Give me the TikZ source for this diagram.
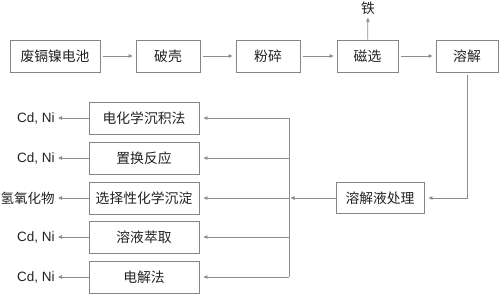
\documentclass[tikz,border=0pt]{standalone}
\usepackage{fontspec}
\setmainfont{Liberation Sans}
\newfontfamily\cjk{Noto Sans CJK SC}
\usetikzlibrary{arrows.meta, positioning, calc}
\definecolor{boxgray}{HTML}{858585}
\definecolor{linegray}{HTML}{8E8E8E}
\definecolor{txtgray}{HTML}{222222}

\begin{document}
\begin{tikzpicture}[
      x=1pt, y=-1pt,
      line width=0.8pt,
      stepbox/.style={rectangle, draw=boxgray, minimum height=32pt, inner sep=0pt, font=\cjk\fontsize{13.8}{16}\selectfont, text=txtgray},
      outlabel/.style={anchor=east, inner sep=0pt, font=\fontsize{13.5}{16}\selectfont, text=txtgray},
      flow/.style={draw=linegray, -{Triangle[length=4pt, width=3.5pt]}}
    ]
      \useasboundingbox (0,0) rectangle (500,294);
      \node[stepbox, minimum width=90pt] (battery) at (55,56) {废镉镍电池};
      \node[stepbox, minimum width=64pt] (crack) at (168,56) {破壳};
      \node[stepbox, minimum width=64pt] (grind) at (268,56) {粉碎};
      \node[stepbox, minimum width=61pt] (magsep) at (367.5,56) {磁选};
      \node[stepbox, minimum width=62pt] (dissolve) at (467,56) {溶解};
      \node[inner sep=0pt, font=\cjk\fontsize{13.8}{16}\selectfont, text=txtgray] (iron) at (368,8) {铁};
      \node[stepbox, minimum width=88pt, minimum height=31pt] (liquor) at (380,198) {溶解液处理};
      \coordinate (bus) at (289,198);

      \draw[flow, shorten <=3pt, shorten >=3pt] (battery) -- (crack);
      \draw[flow, shorten <=3pt, shorten >=3pt] (crack) -- (grind);
      \draw[flow, shorten <=3pt, shorten >=3pt] (grind) -- (magsep);
      \draw[flow, shorten <=3pt, shorten >=3pt] (magsep) -- (dissolve);
      \draw[flow, shorten >=3pt] (magsep) -- (iron);
      \draw[flow, shorten <=3pt, shorten >=4pt] (dissolve.south) |- (liquor.east);
      \draw[flow, shorten >=1.5pt] (liquor) -- (bus);

      \foreach \y/\method/\product [count=\i] in {118/电化学沉积法/{Cd, Ni}, 158/置换反应/{Cd, Ni}, 198/选择性化学沉淀/{\cjk 氢氧化物}, 237/溶液萃取/{Cd, Ni}, 277/电解法/{Cd, Ni}} {
        \node[stepbox, minimum width=110pt] (method\i) at (144,\y) {\method};
        \node[outlabel] (product\i) at (55,\y) {\product};
        \draw[flow, shorten >=3pt] (method\i) -- (product\i);
        \draw[flow, shorten >=4pt] (method\i.east -| bus) -- (method\i.east);
      }
      \draw[linegray] (method1.east -| bus) -- (method5.east -| bus);
    \end{tikzpicture}
\end{document}
